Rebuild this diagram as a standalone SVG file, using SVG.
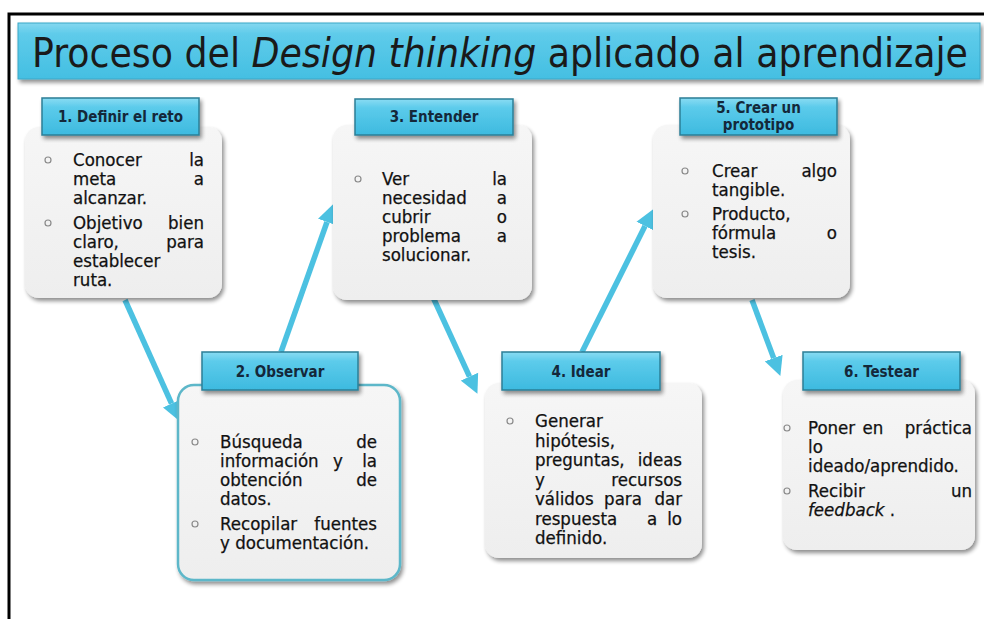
<svg xmlns="http://www.w3.org/2000/svg" width="984" height="619" viewBox="0 0 984 619">
<defs>
<style>
.frame{fill:none;stroke:#000;stroke-width:3}
.body{fill:url(#bodyGrad);filter:url(#shadow)}
.hdr{fill:url(#hdrGrad);stroke:#2b7f97;stroke-width:1.5;filter:url(#shadow)}
.hdrt{font-family:"DejaVu Sans Condensed","DejaVu Sans",sans-serif;font-stretch:condensed;font-weight:bold;font-size:15px;fill:#14283a;text-anchor:middle}
.t{font-family:"DejaVu Sans Condensed","DejaVu Sans",sans-serif;font-stretch:condensed;font-size:18.5px;fill:#111;stroke:#111;stroke-width:0.25}
.r{text-anchor:end}
.m{text-anchor:middle}
.bul{fill:none;stroke:#8a8a8a;stroke-width:1.2}
.arrow{stroke:#4cc1e1;stroke-width:5.5;fill:none;marker-end:url(#ah)}
.title{font-family:"DejaVu Sans Condensed","DejaVu Sans",sans-serif;font-stretch:condensed;font-size:40px;fill:#1a1a1a}
</style>
<linearGradient id="hdrGrad" x1="0" y1="0" x2="0" y2="1">
<stop offset="0" stop-color="#8adcf3"/>
<stop offset="0.25" stop-color="#5ccbeb"/>
<stop offset="1" stop-color="#3dbadf"/>
</linearGradient>
<linearGradient id="titleGrad" x1="0" y1="0" x2="0" y2="1">
<stop offset="0" stop-color="#86d8f0"/>
<stop offset="0.2" stop-color="#5ecbea"/>
<stop offset="1" stop-color="#44bfe2"/>
</linearGradient>
<linearGradient id="bodyGrad" x1="0" y1="0" x2="0" y2="1">
<stop offset="0" stop-color="#f6f6f6"/>
<stop offset="1" stop-color="#eeeeee"/>
</linearGradient>
<filter id="shadow" x="-10%" y="-10%" width="125%" height="130%">
<feGaussianBlur in="SourceAlpha" stdDeviation="2"/>
<feOffset dx="2" dy="3" result="b"/>
<feComponentTransfer><feFuncA type="linear" slope="0.45"/></feComponentTransfer>
<feMerge><feMergeNode/><feMergeNode in="SourceGraphic"/></feMerge>
</filter>
<marker id="ah" viewBox="0 -10 20 20" refX="0" refY="0" markerWidth="20" markerHeight="20" markerUnits="userSpaceOnUse" orient="auto">
<path d="M0,-9.5 L19,0 L0,9.5 z" fill="#4cc1e1"/>
</marker>
</defs>
<rect width="984" height="619" fill="#fff"/>
<path class="frame" d="M9,619 V14 H984"/>

<g id="title">
<rect x="18" y="23" width="962" height="56" fill="url(#titleGrad)" stroke="#3aa7c8" stroke-width="1" filter="url(#shadow)"/>
<text class="title" x="32" y="67" textLength="936" lengthAdjust="spacingAndGlyphs">Proceso del <tspan font-style="italic">Design thinking</tspan> aplicado al aprendizaje</text>
</g>

<g id="connectors">
<line class="arrow" x1="125" y1="300" x2="171.6" y2="403.6"/>
<line class="arrow" x1="281" y1="352" x2="327" y2="222"/>
<line class="arrow" x1="432" y1="295" x2="469.5" y2="376.6"/>
<line class="arrow" x1="582" y1="352" x2="645" y2="226.1"/>
<line class="arrow" x1="752" y1="300" x2="773.7" y2="358.1"/>
</g>

<g id="node1">
<rect class="body" x="25" y="127" width="197" height="171" rx="14"/>
<rect class="hdr" x="42" y="98" width="157" height="37"/>
<text class="hdrt" x="120.5" y="122">1. Definir el reto</text>
<circle class="bul" cx="48" cy="160" r="3"/>
<circle class="bul" cx="48" cy="223" r="3"/>
<text class="t" x="73" y="166">Conocer</text><text class="t r" x="204" y="166">la</text>
<text class="t" x="73" y="185">meta</text><text class="t r" x="204" y="185">a</text>
<text class="t" x="73" y="204">alcanzar.</text>
<text class="t" x="73" y="229">Objetivo</text><text class="t r" x="204" y="229">bien</text>
<text class="t" x="73" y="248">claro,</text><text class="t r" x="204" y="248">para</text>
<text class="t" x="73" y="267">establecer</text>
<text class="t" x="73" y="286">ruta.</text>
</g>

<g id="node3">
<rect class="body" x="333" y="125" width="199" height="175" rx="14"/>
<rect class="hdr" x="355" y="99" width="158" height="36"/>
<text class="hdrt" x="434" y="122">3. Entender</text>
<circle class="bul" cx="358" cy="179" r="3"/>
<text class="t" x="382" y="185">Ver</text><text class="t r" x="507" y="185">la</text>
<text class="t" x="382" y="204">necesidad</text><text class="t r" x="507" y="204">a</text>
<text class="t" x="382" y="223">cubrir</text><text class="t r" x="507" y="223">o</text>
<text class="t" x="382" y="242">problema</text><text class="t r" x="507" y="242">a</text>
<text class="t" x="382" y="261">solucionar.</text>
</g>

<g id="node5">
<rect class="body" x="653" y="125" width="197" height="173" rx="14"/>
<rect class="hdr" x="680" y="98" width="157" height="37"/>
<text class="hdrt" x="758.5" y="113">5. Crear un</text>
<text class="hdrt" x="758.5" y="130">prototipo</text>
<circle class="bul" cx="685" cy="171" r="3"/>
<circle class="bul" cx="685" cy="214" r="3"/>
<text class="t" x="712" y="177">Crear</text><text class="t r" x="837" y="177">algo</text>
<text class="t" x="712" y="196">tangible.</text>
<text class="t" x="712" y="220">Producto,</text>
<text class="t" x="712" y="239">fórmula</text><text class="t r" x="837" y="239">o</text>
<text class="t" x="712" y="258">tesis.</text>
</g>

<g id="node2">
<rect class="body" x="178" y="385" width="222" height="195" rx="16" stroke="#5db7c9" stroke-width="2.5"/>
<rect class="hdr" x="202" y="352" width="156" height="38"/>
<text class="hdrt" x="280" y="377">2. Observar</text>
<circle class="bul" cx="195" cy="442" r="3"/>
<circle class="bul" cx="195" cy="524" r="3"/>
<text class="t" x="220" y="448">Búsqueda</text><text class="t r" x="377" y="448">de</text>
<text class="t" x="220" y="467">información</text><text class="t" x="333" y="467">y</text><text class="t r" x="377" y="467">la</text>
<text class="t" x="220" y="486">obtención</text><text class="t r" x="377" y="486">de</text>
<text class="t" x="220" y="505">datos.</text>
<text class="t" x="220" y="530">Recopilar</text><text class="t r" x="377" y="530">fuentes</text>
<text class="t" x="220" y="549">y documentación.</text>
</g>

<g id="node4">
<rect class="body" x="485" y="383" width="217" height="175" rx="14"/>
<rect class="hdr" x="502" y="352" width="158" height="38"/>
<text class="hdrt" x="581" y="377">4. Idear</text>
<circle class="bul" cx="510" cy="421" r="3"/>
<text class="t" x="535" y="427">Generar</text>
<text class="t" x="535" y="446.5">hipótesis,</text>
<text class="t" x="535" y="466">preguntas,</text><text class="t r" x="682" y="466">ideas</text>
<text class="t" x="535" y="485.5">y</text><text class="t r" x="682" y="485.5">recursos</text>
<text class="t" x="535" y="505">válidos</text><text class="t m" x="623" y="505">para</text><text class="t r" x="682" y="505">dar</text>
<text class="t" x="535" y="524.5">respuesta</text><text class="t m" x="652" y="524.5">a</text><text class="t r" x="682" y="524.5">lo</text>
<text class="t" x="535" y="544">definido.</text>
</g>

<g id="node6">
<rect class="body" x="783" y="380" width="192" height="170" rx="14"/>
<rect class="hdr" x="803" y="352" width="157" height="38"/>
<text class="hdrt" x="881.5" y="377">6. Testear</text>
<circle class="bul" cx="787" cy="428" r="3"/>
<circle class="bul" cx="787" cy="491" r="3"/>
<text class="t" x="808" y="434">Poner</text><text class="t m" x="873" y="434">en</text><text class="t r" x="972" y="434">práctica</text>
<text class="t" x="808" y="453">lo</text>
<text class="t" x="808" y="472">ideado/aprendido.</text>
<text class="t" x="808" y="497">Recibir</text><text class="t r" x="972" y="497">un</text>
<text class="t" x="808" y="516"><tspan font-style="italic">feedback</tspan> .</text>
</g>
</svg>
